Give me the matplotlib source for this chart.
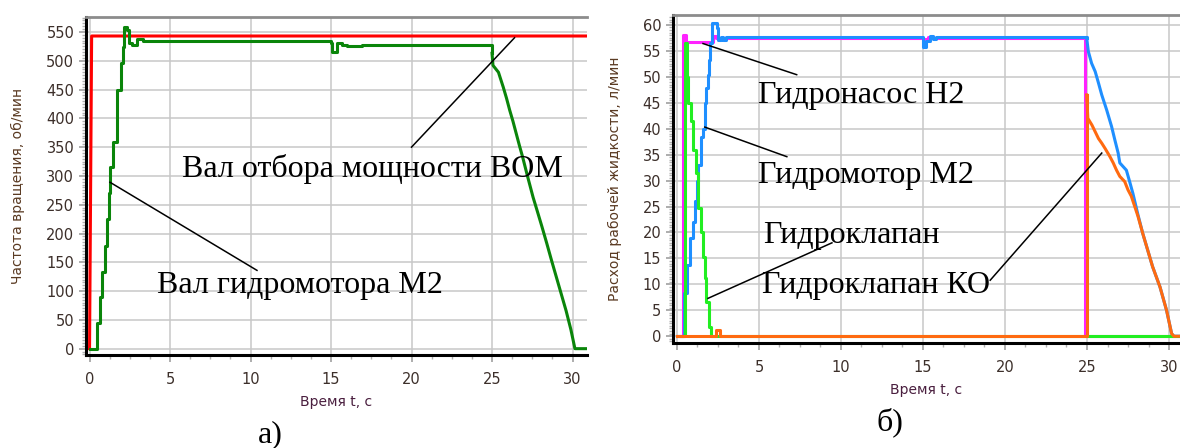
import matplotlib
matplotlib.use("Agg")
import matplotlib.pyplot as plt
from matplotlib.ticker import MultipleLocator

# ---------------- data (a) ----------------
pto_t = [0.0, 0.13, 31.0]
pto_v = [0, 543, 543]

m2_t = [0.0, 0.47, 0.65, 0.75, 0.96, 1.07, 1.2, 1.27, 1.46, 1.7, 1.73, 1.94, 2.06, 2.14, 2.31, 2.47, 2.63, 2.93, 3.33,
        15.0, 15.05, 15.35, 15.66, 15.97, 16.6, 16.9, 25.0, 25.06, 25.4, 25.7, 25.9, 26.1, 26.3, 26.5, 26.7, 26.9,
        27.2, 27.55, 27.8, 28.1, 28.4, 28.7, 29.0, 29.3, 29.6, 29.9, 30.15, 31.0]
m2_v = [0, 45, 89, 134, 179, 226, 270, 315, 359, 405, 450, 496, 524, 559, 553, 531, 527, 537, 535,
        530, 515, 531, 527, 526, 525, 527, 513, 492, 480, 454, 435, 414, 395, 374, 353, 333,
        300, 263, 240, 212, 183, 153, 124, 95, 66, 33, 0, 0]

# ---------------- data (б) ----------------
pump_t = [0.0, 0.39, 0.55, 2.2, 2.4, 15.0, 15.3, 15.6, 24.85, 31.0]
pump_v = [0, 58.1, 56.7, 57.8, 57.5, 57.2, 57.6, 57.5, 0, 0]

motor_t = [0.0, 0.45, 0.62, 0.8, 0.95, 1.1, 1.2, 1.26, 1.45, 1.56, 1.7, 1.8, 1.9, 1.95, 2.03, 2.15, 2.42, 2.5, 2.7,
           2.8, 3.0, 14.98, 15.2, 15.4, 15.6, 15.8, 24.98, 25.08, 25.28, 25.5, 25.7, 25.9, 26.2, 26.5, 26.7, 26.9,
           27.0, 27.4, 27.6, 27.8, 28.1, 28.4, 28.7, 29.0, 29.45, 29.85, 30.16, 30.3, 31.0]
motor_v = [0, 8.3, 13.7, 18.9, 22, 26, 30, 33, 38.4, 40, 45, 47.8, 50.4, 53.3, 56.5, 60.4, 59.4, 57, 57.6,
           57, 57.6, 55.8, 56.8, 57.8, 57.2, 57.6, 57.5, 54.9, 52.6, 51, 48.8, 46.5, 43.6, 40.4, 37.8, 35.3,
           33.4, 32, 29.8, 27.5, 23.5, 19.8, 16.6, 13.4, 9.5, 5.0, 0.5, 0, 0]

valve_t = [0.0, 0.5, 0.6, 0.69, 0.85, 1.0, 1.16, 1.3, 1.46, 1.6, 1.7, 1.8, 1.95, 2.1, 31.0]
valve_v = [0, 56.5, 50, 45, 41.4, 35.9, 31.4, 24.7, 20.1, 15.3, 11.2, 6.6, 1.8, 0, 0]

ko_t = [0.0, 2.4, 2.6, 24.98, 25.05, 25.3, 25.5, 25.7, 25.9, 26.1, 26.4, 26.6, 26.8, 27.0, 27.3, 27.5, 27.7,
        28.1, 28.4, 28.7, 29.0, 29.45, 29.85, 30.16, 30.3, 31.0]
ko_v = [0, 1.3, 0, 46.5, 42, 40.7, 39.4, 38.1, 37.2, 36.2, 34.6, 33.4, 32, 30.8, 29.8, 28.2, 27,
        23.2, 19.8, 16.6, 13.4, 9.5, 5.0, 0.5, 0, 0]

x_ticks = [0, 5, 10, 15, 20, 25, 30]
xlabel = "Время t, c"
ylabel_a = "Частота вращения, об/мин"
ylabel_b = "Расход рабочей жидкости, л/мин"
t_stop = 24.98  # start of the run-down: stepped before, continuous after

W, H = 1180, 448
fig = plt.figure(figsize=(W / 100, H / 100), dpi=100)

def px_axes(l, t, r, b):
    return fig.add_axes([l / W, 1 - b / H, (r - l) / W, (b - t) / H])

TICKC = "#3c2f2a"
LABC = "#5a3a22"
XLABC = "#4a1f3f"

def style(ax, xlim, ylim, ymaj, ymin_step):
    ax.set_xlim(*xlim)
    ax.set_ylim(*ylim)
    ax.set_xticks(x_ticks)
    ax.xaxis.set_minor_locator(MultipleLocator(1.25))
    ax.yaxis.set_major_locator(MultipleLocator(ymaj))
    ax.yaxis.set_minor_locator(MultipleLocator(ymin_step))
    ax.grid(True, which="major", color="#c8c8c8", lw=1.1, zorder=0)
    ax.set_axisbelow(True)
    for s in ("left", "bottom"):
        ax.spines[s].set_color("black")
        ax.spines[s].set_linewidth(2.2)
    ax.spines["top"].set_color("#8c8c8c")
    ax.spines["top"].set_linewidth(2.0)
    ax.spines["right"].set_visible(False)
    ax.tick_params(which="major", length=5, width=1.2, color="#a0a0a0",
                   labelsize=10.5, labelcolor=TICKC)
    ax.tick_params(axis="x", which="major", pad=7)
    ax.tick_params(which="minor", length=3, width=1.0, color="#b0b0b0")
    ax.set_xlabel(xlabel, fontsize=10, color=XLABC, labelpad=6)

def plot_split(ax, t, v, color, z):
    i = t.index(t_stop) if t_stop in t else t.index(25.0)
    ax.plot(t[:i + 1], v[:i + 1], color=color, lw=2.2, drawstyle="steps-post", zorder=z)
    ax.plot(t[i:], v[i:], color=color, lw=2.2, zorder=z)

SERIF = "Liberation Serif"
FS = 23

# ---------------- (a) ----------------
ax1 = px_axes(86, 17, 587, 355)
style(ax1, (-0.22, 30.9), (-11, 576), 50, 5)
ax1.plot(pto_t, pto_v, color="#ff0000", lw=2.2, zorder=3)
plot_split(ax1, m2_t, m2_v, "#0a850a", 4)
ax1.set_ylabel(ylabel_a, fontsize=10, color=LABC, labelpad=15)
ax1.plot([20.0, 26.4], [350, 540], color="black", lw=1.1, zorder=5)
ax1.plot([1.27, 10.4], [289, 136], color="black", lw=1.1, zorder=5)
ax1.text(5.75, 298, "Вал отбора мощности ВОМ", family=SERIF, fontsize=FS, va="baseline", ha="left", zorder=6)
ax1.text(4.2, 97, "Вал гидромотора М2", family=SERIF, fontsize=FS, va="baseline", ha="left", zorder=6)
fig.text(258 / W, 1 - 442 / H, "а)", family=SERIF, fontsize=FS, va="baseline", ha="left")

# ---------------- (б) ----------------
ax2 = px_axes(673, 15, 1180, 343)
style(ax2, (-0.24, 30.67), (-1.3, 61.9), 5, 0.5)
ax2.plot(pump_t, pump_v, color="#ff22ff", lw=2.2, drawstyle="steps-post", zorder=3)
plot_split(ax2, motor_t, motor_v, "#1f8fff", 4)
ax2.plot(valve_t, valve_v, color="#22ee22", lw=2.2, drawstyle="steps-post", zorder=5)
plot_split(ax2, ko_t, ko_v, "#ff6a10", 6)
ax2.set_ylabel(ylabel_b, fontsize=10, color=LABC, labelpad=15)
ax2.plot([1.59, 7.3], [56.4, 50.4], color="black", lw=1.1, zorder=7)
ax2.plot([1.7, 6.7], [40.3, 34.6], color="black", lw=1.1, zorder=7)
ax2.plot([1.89, 9.45], [7.3, 18.0], color="black", lw=1.1, zorder=7)
ax2.plot([19.1, 25.9], [10.8, 35.3], color="black", lw=1.1, zorder=7)
ax2.text(4.94, 45, "Гидронасос Н2", family=SERIF, fontsize=FS, va="baseline", ha="left", zorder=8)
ax2.text(4.94, 29.5, "Гидромотор М2", family=SERIF, fontsize=FS, va="baseline", ha="left", zorder=8)
ax2.text(5.24, 18.0, "Гидроклапан", family=SERIF, fontsize=FS, va="baseline", ha="left", zorder=8)
ax2.text(5.18, 8.3, "Гидроклапан КО", family=SERIF, fontsize=FS, va="baseline", ha="left", zorder=8)
fig.text(877 / W, 1 - 430 / H, "б)", family=SERIF, fontsize=FS, va="baseline", ha="left")

fig.savefig("out.png", dpi=100)
